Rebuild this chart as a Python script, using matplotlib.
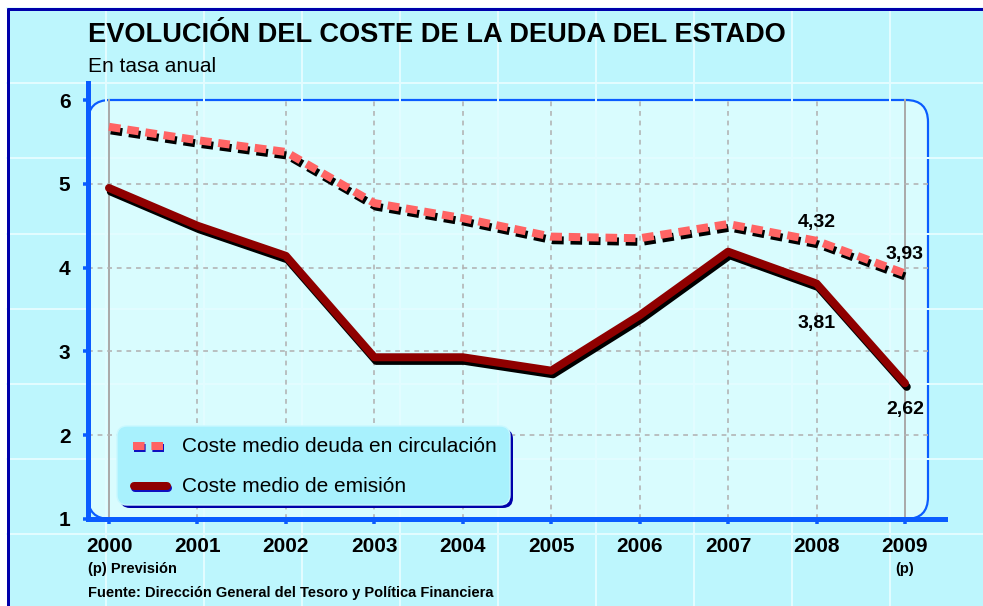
"""Evolución del coste de la deuda del Estado."""

import matplotlib

matplotlib.use("Agg")

import matplotlib.pyplot as plt
import matplotlib.patheffects as pe
from matplotlib.patches import FancyBboxPatch, Rectangle

plt.rcParams["font.family"] = ["Liberation Sans", "DejaVu Sans"]

years = [2000, 2001, 2002, 2003, 2004, 2005, 2006, 2007, 2008, 2009]
year_labels = ["2000", "2001", "2002", "2003", "2004", "2005", "2006", "2007", "2008", "2009"]
circulacion = [5.68, 5.52, 5.38, 4.77, 4.59, 4.37, 4.35, 4.52, 4.32, 3.93]
emision = [4.95, 4.50, 4.14, 2.93, 2.93, 2.77, 3.43, 4.19, 3.81, 2.62]
y_ticks = [1, 2, 3, 4, 5, 6]
# value labels: (series, index, text)
value_labels = [("c", 8, "4,32"), ("e", 8, "3,81"), ("c", 9, "3,93"), ("e", 9, "2,62")]

W, H = 983, 606
BLUE = "#0a5cff"
DARK_BLUE = "#0000aa"
PX = 0.72  # points per pixel at dpi 100

fig = plt.figure(figsize=(W / 100, H / 100), dpi=100)
fig.patch.set_facecolor("white")

# background canvas in pixel coordinates
bg = fig.add_axes([0, 0, 1, 1])
bg.set_xlim(0, W)
bg.set_ylim(H, 0)
bg.axis("off")
bg.add_patch(Rectangle((7, 7), W, H, facecolor="#bdf6fd", edgecolor="none"))
for gx in range(106, W, 98):
    bg.plot([gx, gx], [8, H], color="#e2fcff", lw=2 * PX)
for k in range(8):
    gy = 8 + 75.2 * k
    bg.plot([7, W], [gy, gy], color="#e2fcff", lw=2 * PX)
bg.plot([8, 8], [8, H], color=DARK_BLUE, lw=3 * PX, solid_capstyle="butt")
bg.plot([7, W], [8.5, 8.5], color=DARK_BLUE, lw=3 * PX, solid_capstyle="butt")

# inner rounded panel
bg.add_patch(FancyBboxPatch((88, 100), 928 - 88, 519 - 100,
                            boxstyle="round,pad=0,rounding_size=22",
                            facecolor="#d9fcfe", edgecolor=BLUE, lw=2.2 * PX))

bg.text(88, 35, "EVOLUCIÓN DEL COSTE DE LA DEUDA DEL ESTADO", fontsize=19.6,
        fontweight="bold", va="center", ha="left")
bg.text(88, 67, "En tasa anual", fontsize=15, va="center", ha="left")
bg.text(88, 569, "(p) Previsión", fontsize=10.5, fontweight="bold", va="center")
bg.text(905, 569, "(p)", fontsize=10.5, fontweight="bold", va="center", ha="center")
bg.text(88, 593, "Fuente: Dirección General del Tesoro y Política Financiera",
        fontsize=10.5, fontweight="bold", va="center")

# data axes
left, right, bottom, top = 88, 945, 519, 83
ax = fig.add_axes([left / W, (H - bottom) / H, (right - left) / W, (bottom - top) / H])
ax.set_facecolor("none")
x_per_px = 1 / 88.44
y_per_px = 1 / 83.8
ax.set_xlim(2000 - (109 - left) * x_per_px, 2000 + (right - 109) * x_per_px)
ax.set_ylim(1, 1 + (bottom - top) * y_per_px)
x_panel_right = 2000 + (928 - 109) * x_per_px

for sp in ["top", "right"]:
    ax.spines[sp].set_visible(False)
for sp in ["left", "bottom"]:
    ax.spines[sp].set_color(BLUE)
    ax.spines[sp].set_linewidth(5 * PX)
    ax.spines[sp].set_zorder(6)

ax.set_xticks(years)
ax.set_xticklabels(year_labels)
ax.set_yticks(y_ticks)
ax.tick_params(axis="both", colors=BLUE, width=3.5 * PX, length=5 * PX,
               labelcolor="black", labelsize=15, pad=9)
for lab in ax.get_xticklabels() + ax.get_yticklabels():
    lab.set_fontweight("bold")

# grid
for yr in years[1:-1]:
    ax.plot([yr, yr], [1, 6], color="#b2b2b2", lw=1.6 * PX, ls=(0, (3, 3)), zorder=1)
for yr in (years[0], years[-1]):
    ax.plot([yr, yr], [1, 6], color="#aaaaaa", lw=2 * PX, zorder=1)
for yv in y_ticks[1:-1]:
    ax.plot([ax.get_xlim()[0], x_panel_right], [yv, yv], color="#b2b2b2",
            lw=1.6 * PX, ls=(0, (3, 3)), zorder=1)

shadow = [pe.SimpleLineShadow(offset=(1.3, -2.6), shadow_color="black", alpha=1.0), pe.Normal()]
ax.plot(years, circulacion, color="#ff6464", lw=8 * PX, dashes=(1.45, 0.85),
        dash_capstyle="butt", dash_joinstyle="round", zorder=4, path_effects=shadow)
ax.plot(years, emision, color="#8f0000", lw=8 * PX, solid_capstyle="round",
        solid_joinstyle="round", zorder=3, path_effects=shadow)

label_offsets = {("c", 8): 13, ("e", 8): -29, ("c", 9): 14, ("e", 9): -19}
for series, i, txt in value_labels:
    yv = circulacion[i] if series == "c" else emision[i]
    ax.annotate(txt, (years[i], yv), xytext=(0, label_offsets[(series, i)]),
                textcoords="offset points", fontsize=14, fontweight="bold",
                ha="center", va="center", zorder=5)

# legend box
t = bg.transData
ax.add_patch(FancyBboxPatch((120, 429), 510 - 117, 505 - 426,
                            boxstyle="round,pad=0,rounding_size=10", transform=t,
                            facecolor=DARK_BLUE, edgecolor="none", zorder=7, clip_on=False))
ax.add_patch(FancyBboxPatch((117, 426), 510 - 117, 505 - 426,
                            boxstyle="round,pad=0,rounding_size=10", transform=t,
                            facecolor="#a8f1fd", edgecolor="#c8f8ff", lw=1, zorder=7,
                            clip_on=False))
ax.plot([134, 166], [448, 448], transform=t, color="#1010c0", lw=8 * PX,
        dashes=(1.45, 0.85), dash_capstyle="butt", zorder=8, clip_on=False)
ax.plot([133, 165], [446, 446], transform=t, color="#ff6464", lw=8 * PX,
        dashes=(1.45, 0.85), dash_capstyle="butt", zorder=8, clip_on=False)
ax.plot([135, 168], [488, 488], transform=t, color="#1010c0", lw=8 * PX,
        solid_capstyle="round", zorder=8, clip_on=False)
ax.plot([134, 167], [486, 486], transform=t, color="#8f0000", lw=8 * PX,
        solid_capstyle="round", zorder=8, clip_on=False)
ax.text(182, 446, "Coste medio deuda en circulación", transform=t, fontsize=15,
        va="center", ha="left", zorder=9)
ax.text(182, 487, "Coste medio de emisión", transform=t, fontsize=15,
        va="center", ha="left", zorder=9)

fig.savefig("out.png", dpi=100)
